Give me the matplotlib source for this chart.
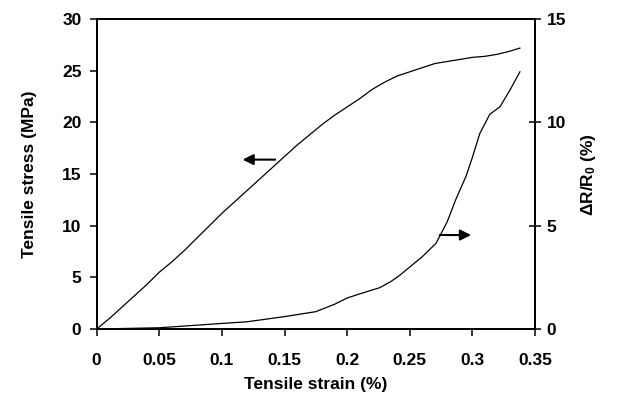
import matplotlib
matplotlib.use("Agg")
import matplotlib.pyplot as plt
import numpy as np

plt.rcParams['font.family'] = ['Liberation Sans', 'DejaVu Sans']
plt.rcParams['font.weight'] = 'bold'
plt.rcParams['mathtext.fontset'] = 'custom'
plt.rcParams['mathtext.rm'] = 'Liberation Sans:bold'
plt.rcParams['mathtext.it'] = 'Liberation Sans:bold'
plt.rcParams['mathtext.bf'] = 'Liberation Sans:bold'

# stress-strain curve (left axis)
strain_s = [0, 0.01, 0.02, 0.03, 0.04, 0.05, 0.06, 0.07, 0.08, 0.09, 0.10,
            0.11, 0.12, 0.13, 0.14, 0.15, 0.16, 0.17, 0.18, 0.19, 0.20,
            0.21, 0.22, 0.23, 0.24, 0.25, 0.26, 0.27, 0.28, 0.29, 0.30,
            0.31, 0.32, 0.33, 0.338]
stress = [0, 1.0, 2.1, 3.2, 4.3, 5.5, 6.5, 7.6, 8.8, 10.0, 11.2,
          12.3, 13.4, 14.5, 15.6, 16.7, 17.8, 18.8, 19.8, 20.7, 21.5,
          22.3, 23.2, 23.9, 24.5, 24.9, 25.3, 25.7, 25.9, 26.1, 26.3,
          26.4, 26.6, 26.9, 27.2]

# resistance change curve (right axis)
strain_r = [0, 0.05, 0.10, 0.12, 0.15, 0.175, 0.19, 0.20, 0.21, 0.226,
            0.235, 0.242, 0.25, 0.26, 0.271, 0.28, 0.287, 0.295, 0.30,
            0.306, 0.314, 0.322, 0.33, 0.338]
dR = [0, 0.06, 0.27, 0.35, 0.6, 0.84, 1.2, 1.5, 1.7, 2.0,
      2.3, 2.6, 3.0, 3.5, 4.15, 5.2, 6.3, 7.4, 8.3,
      9.47, 10.4, 10.75, 11.56, 12.45]

fig = plt.figure(figsize=(6.17, 3.99), dpi=100)
ax = fig.add_axes([0.1567, 0.1754, 0.7103, 0.7766])
ax2 = ax.twinx()

ax.plot(strain_s, stress, color='black', lw=0.9)
ax2.plot(strain_r, dR, color='black', lw=0.9)

ax.set_xlim(0, 0.35)
ax.set_ylim(0, 30)
ax2.set_ylim(0, 15)
ax.set_xticks(np.arange(0, 0.351, 0.05))
ax.set_xticklabels(['0', '0.05', '0.1', '0.15', '0.2', '0.25', '0.3', '0.35'])
ax.set_yticks(range(0, 31, 5))
ax2.set_yticks(range(0, 16, 5))

for a in (ax, ax2):
    for s in a.spines.values():
        s.set_linewidth(1.3)
ax.tick_params(axis='both', direction='out', length=5, width=1.1,
               labelsize=12.5, pad=6)
ax.tick_params(axis='x', pad=12)
ax2.tick_params(axis='y', direction='inout', length=9, width=1.1,
                labelsize=12.5, pad=4)

ax.set_xlabel('Tensile strain (%)', fontsize=12.5, fontweight='bold', labelpad=7)
ax.set_ylabel('Tensile stress (MPa)', fontsize=12.5, fontweight='bold', labelpad=18)
ax2.set_ylabel('ΔR/R$_0$ (%)', fontsize=12.5, fontweight='bold', labelpad=9)

# arrows pointing to the relevant axes
ax.annotate('', xy=(0.1165, 16.4), xytext=(0.1425, 16.4),
            arrowprops=dict(arrowstyle='-|>', color='black', lw=1.5,
                            mutation_scale=16, shrinkA=0, shrinkB=0))
ax2.annotate('', xy=(0.299, 4.55), xytext=(0.274, 4.55),
             arrowprops=dict(arrowstyle='-|>', color='black', lw=1.5,
                             mutation_scale=16, shrinkA=0, shrinkB=0))

fig.savefig('out.png', dpi=100)
